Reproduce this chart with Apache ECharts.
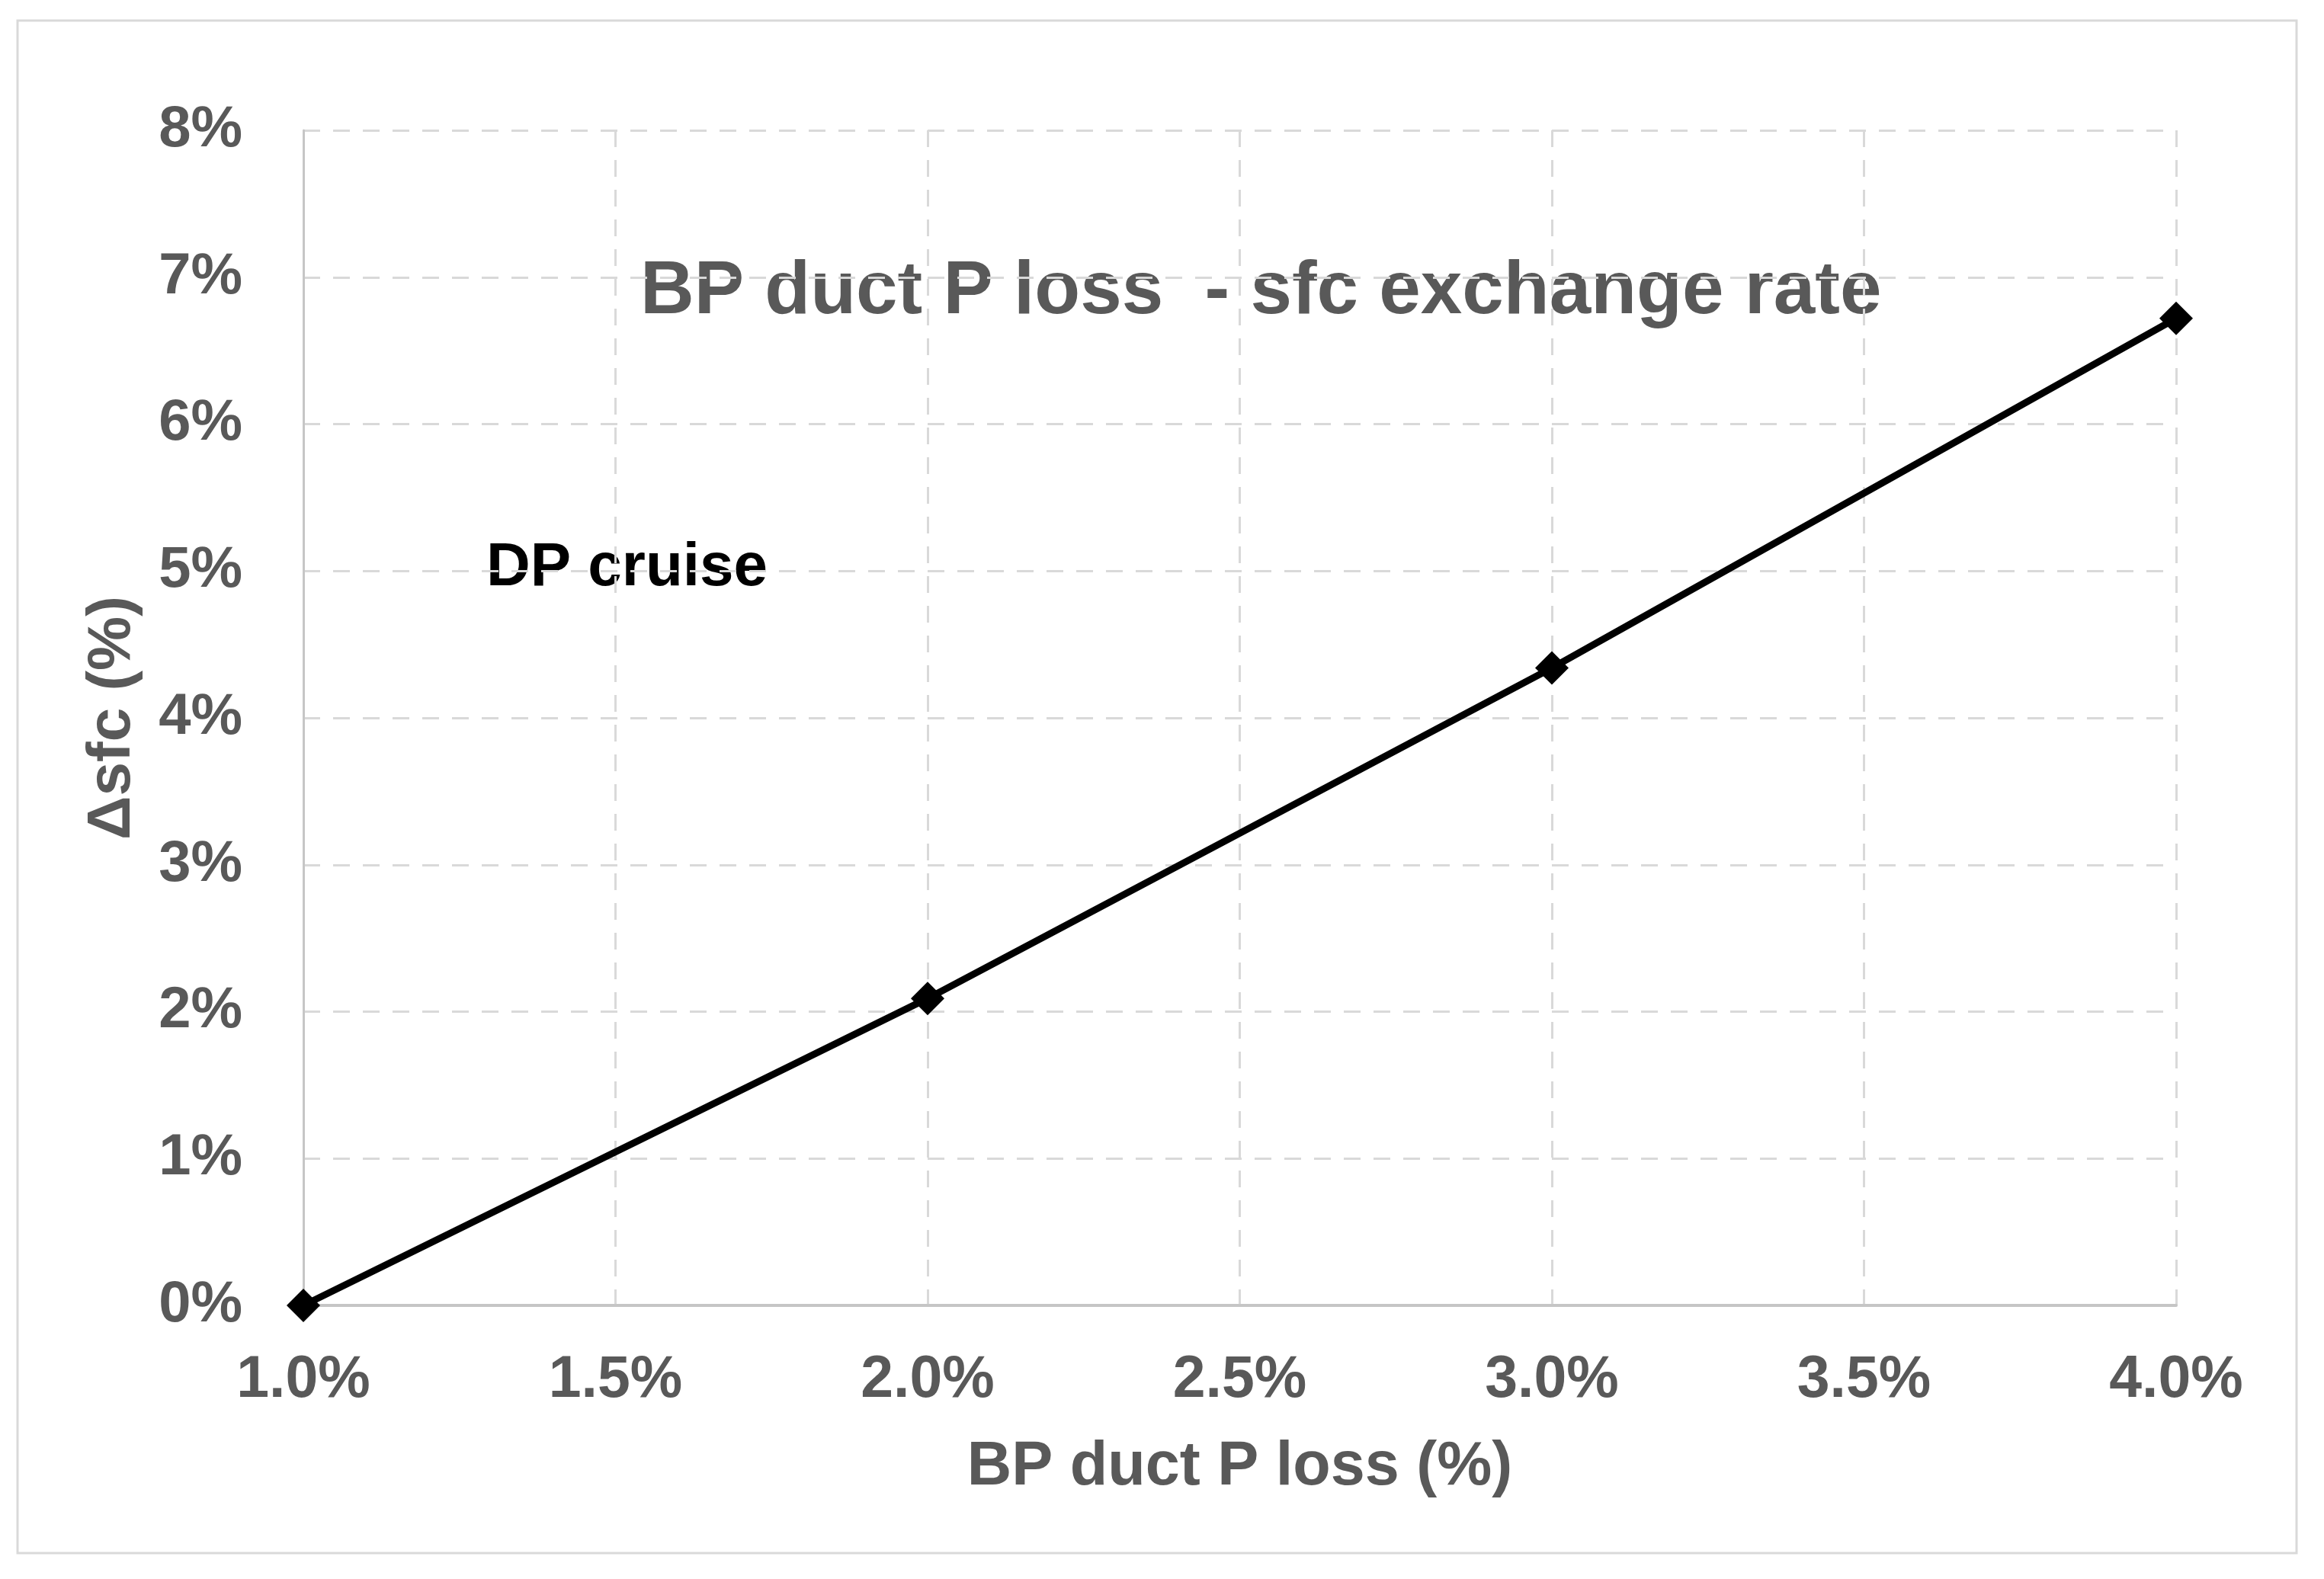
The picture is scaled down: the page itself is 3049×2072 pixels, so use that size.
<!DOCTYPE html>
<html>
<head>
<meta charset="utf-8">
<script src="https://cdn.jsdelivr.net/npm/echarts@6/dist/echarts.min.js"></script>
<style>
html,body{margin:0;padding:0;background:#fff;}
#main{width:3049px;height:2072px;}
</style>
</head>
<body>
<div id="main"></div>
<script>
const xValues = [1.0, 2.0, 3.0, 4.0];
const sfcValues = [0.0, 2.09, 4.34, 6.72];
const chartTitle = 'BP duct P loss  - sfc exchange rate';
const annotation = 'DP cruise';
const xAxisName = 'BP duct P loss (%)';
const yAxisName = '\u0394sfc (%)';

const chart = echarts.init(document.getElementById('main'));
const FONT = '"Liberation Sans", Arial, sans-serif';
const GRAY = '#595959';

chart.setOption({
  backgroundColor: '#fff',
  animation: false,
  grid: {left: 398, right: 194, top: 171, bottom: 359},
  xAxis: {
    type: 'value', min: 1, max: 4, interval: 0.5,
    name: xAxisName, nameLocation: 'middle', nameGap: 172,
    nameTextStyle: {color: GRAY, fontFamily: FONT, fontWeight: 'bold', fontSize: 81},
    axisLine: {show: true, lineStyle: {color: '#c6c6c6', width: 4}},
    axisTick: {show: false},
    axisLabel: {color: GRAY, fontFamily: FONT, fontWeight: 'bold', fontSize: 77, margin: 60,
      formatter: v => v.toFixed(1) + '%'},
    splitLine: {show: true, lineStyle: {color: '#d9d9d9', width: 3, type: [22, 17]}}
  },
  yAxis: {
    type: 'value', min: 0, max: 8, interval: 1,
    name: yAxisName, nameLocation: 'middle', nameGap: 210, nameRotate: 90,
    nameTextStyle: {color: GRAY, fontFamily: FONT, fontWeight: 'bold', fontSize: 80},
    axisLine: {show: true, lineStyle: {color: '#c6c6c6', width: 3}},
    axisTick: {show: false},
    axisLabel: {color: GRAY, fontFamily: FONT, fontWeight: 'bold', fontSize: 76, margin: 80,
      formatter: v => v + '%'},
    splitLine: {show: true, lineStyle: {color: '#d9d9d9', width: 3, type: [22, 17]}}
  },
  graphic: [
    {type: 'rect', shape: {x: 23, y: 27, width: 2990, height: 2011},
      style: {fill: null, stroke: '#d9d9d9', lineWidth: 3}, z: -1},
    {type: 'text', x: 840, y: 384,
      style: {text: chartTitle, fill: GRAY, font: 'bold 98px ' + FONT, textVerticalAlign: 'middle'}},
    {type: 'text', x: 638, y: 746,
      style: {text: annotation, fill: '#000', font: 'bold 80px ' + FONT, textVerticalAlign: 'middle'}}
  ],
  series: [{
    type: 'line',
    data: xValues.map((x, i) => [x, sfcValues[i]]),
    symbol: 'diamond', symbolSize: 44,
    lineStyle: {color: '#000', width: 9},
    itemStyle: {color: '#000'},
    clip: false
  }]
});
</script>
</body>
</html>
